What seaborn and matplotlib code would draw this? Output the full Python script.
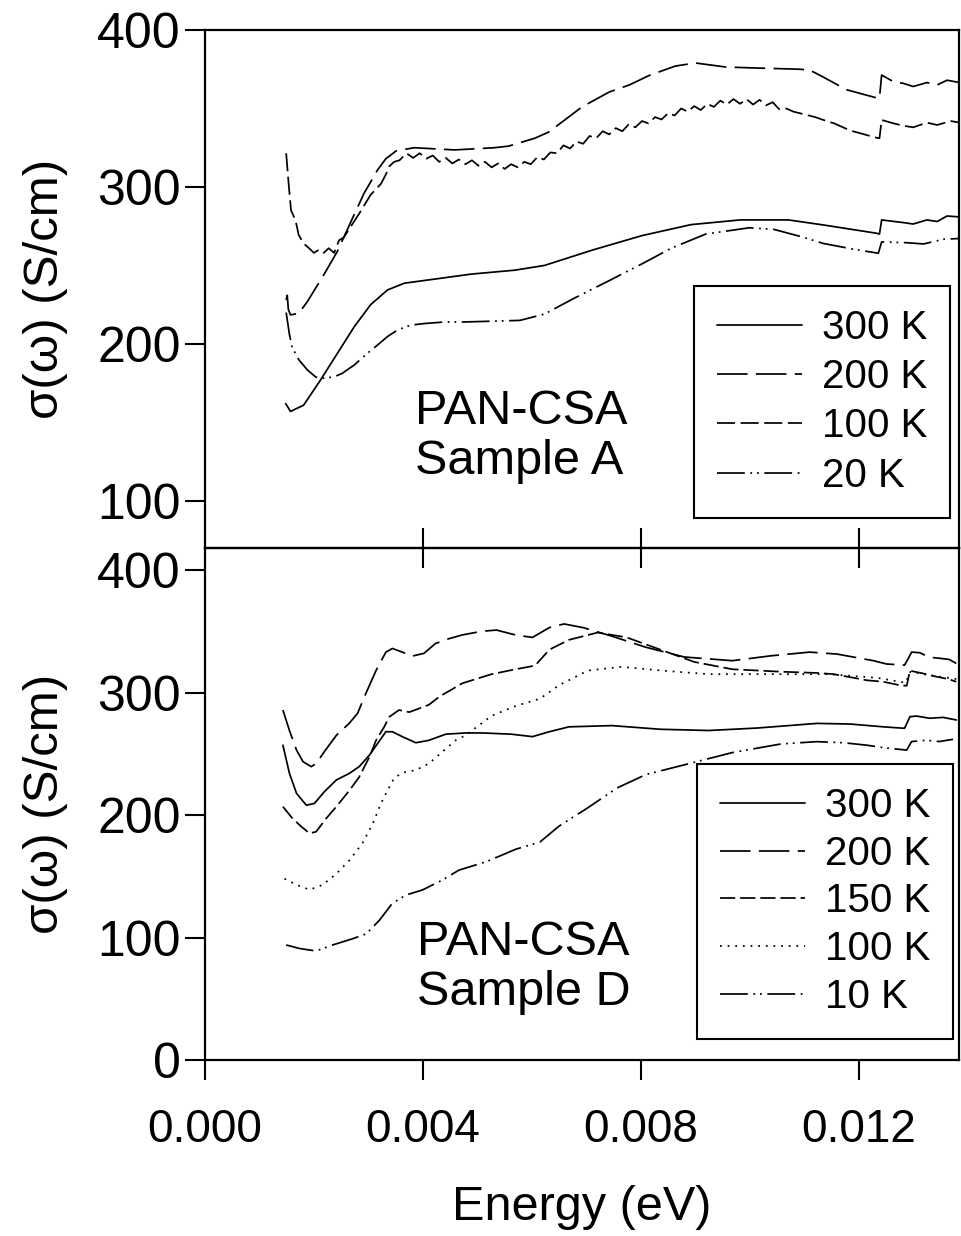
import numpy as np
import matplotlib
matplotlib.use("Agg")
import matplotlib.pyplot as plt
import seaborn as sns

# ---------------- data (energy in meV, sigma in S/cm) ----------------
# Sample A
A300_E = [1.48, 1.57, 1.81, 2.12, 2.43, 2.74, 3.04, 3.35, 3.66, 4.15, 4.89, 5.69, 6.23, 7.13,
          8.02, 8.92, 9.82, 10.71, 11.35, 12.33, 12.38, 12.42, 12.82, 13.00, 13.25, 13.44, 13.62, 13.93]
A300_S = [162, 157, 161, 177, 194, 211, 225, 234.4, 238.7, 241, 244.5, 247, 250, 260,
          269, 276, 279, 279, 275.8, 270.5, 270, 279, 277.3, 276.4, 279, 278, 281.5, 280.7]

A200_E = [1.49, 1.51, 1.53, 1.57, 1.72, 1.88, 2.18, 2.43, 2.68, 2.92, 3.17, 3.32, 3.51, 3.84,
          4.58, 5.31, 5.57, 6.05, 6.31, 6.92, 7.42, 7.79, 8.15, 8.63, 9.00, 9.56, 10.11, 10.92,
          11.10, 11.35, 11.77, 12.30, 12.38, 12.42, 12.64, 12.82, 13.00, 13.25, 13.44, 13.62, 13.93]
A200_S = [228, 231, 222, 218.5, 219.5, 227, 244, 259, 278, 296, 311, 318, 323, 325,
          323.6, 325, 326, 331, 335, 351, 360.5, 365, 371, 377, 379, 376.4, 375.8, 375,
          374.5, 370, 362, 357, 356.5, 371.3, 367, 366, 364, 366.5, 365, 368, 366]

A100_E = [1.49, 1.54, 1.58, 1.66, 1.72, 1.81, 1.91, 2.00, 2.09, 2.18, 2.27, 2.37, 2.46, 2.55,
          2.68, 2.83, 3.04, 3.23, 3.32, 3.38, 3.47, 3.57,
          3.70, 3.82, 3.94, 4.06, 4.18, 4.30, 4.42, 4.54, 4.66, 4.78,
          4.90, 5.02, 5.14, 5.26, 5.38, 5.50, 5.62, 5.74, 5.86, 5.98,
          6.10, 6.22, 6.34, 6.46, 6.58, 6.70, 6.82, 6.94, 7.06, 7.18,
          7.30, 7.42, 7.54, 7.66, 7.78, 7.90, 8.02, 8.14, 8.26, 8.38,
          8.50, 8.62, 8.74, 8.86, 8.98, 9.10, 9.22, 9.34, 9.46, 9.58,
          9.70, 9.82, 9.94, 10.06, 10.18, 10.30, 10.42, 10.54,
          10.67, 10.80, 11.03, 11.20, 11.35, 11.55, 11.84, 12.05, 12.30, 12.38, 12.42,
          12.64, 12.82, 13.00, 13.25, 13.44, 13.69, 13.93]
A100_S = [321.5, 300, 285, 279, 269.4, 264, 261, 258, 260, 258, 261, 258, 266, 268,
          275, 283, 295, 302, 308, 313, 316, 317,
          321.5, 318.5, 321.5, 318, 320, 316, 318.5, 315, 317.5, 314.5,
          317, 313.5, 316, 312.5, 315, 311.5, 314.5, 312.5, 316, 314.5,
          319, 317.5, 322, 321.5, 326.5, 324.5, 329, 327.5, 332.5, 331,
          335.5, 333.5, 337.5, 335.5, 340, 338, 342, 340.5, 344.5, 343,
          347, 345.5, 350, 348, 351.5, 349, 353, 351, 355, 352.5,
          356, 353, 356, 352.5, 355.5, 352, 354, 349.5,
          350, 348, 346, 344.5, 342.7, 340.5, 336, 334, 331.6, 331, 342.7,
          340.5, 339, 338, 341, 339.5, 342, 340.5]

A20_E = [1.49, 1.55, 1.60, 1.72, 1.88, 2.03, 2.12, 2.37, 2.52, 2.74, 2.98, 3.17, 3.35, 3.54,
         3.78, 4.03, 4.40, 4.77, 5.78, 6.23, 6.77, 7.40, 8.02, 8.56, 9.19, 9.99, 10.44, 10.98,
         11.35, 11.96, 12.36, 12.42, 12.88, 13.19, 13.56, 13.93]
A20_S = [220, 206, 198, 190, 183.4, 179, 178, 179, 181.3, 186.6, 194, 199.4, 204.7, 209,
         212, 213, 214, 214, 215, 219, 229, 240, 251, 261, 270, 274, 273, 268,
         264, 260, 257.8, 265, 264.5, 263.7, 266.7, 267.3]

# Sample D
D300_E = [1.43, 1.55, 1.68, 1.86, 2.01, 2.19, 2.41, 2.65, 2.83, 3.02, 3.17, 3.32, 3.44, 3.62,
          3.87, 4.11, 4.42, 4.78, 5.10, 5.62, 6.01, 6.32, 6.68, 7.47, 8.36, 9.24, 10.13, 11.23,
          11.84, 12.45, 12.84, 12.94, 13.06, 13.30, 13.55, 13.79]
D300_S = [257, 234, 217.7, 208, 209.5, 219, 228.6, 234, 239.5, 249, 258.5, 268, 268, 264,
          259, 261, 266, 267, 267, 266, 264, 268, 272, 273, 270, 269, 271, 274.8,
          274.3, 272, 270.8, 280.3, 280.8, 279, 279.7, 277.6]

D200_E = [1.43, 1.55, 1.68, 1.80, 1.95, 2.04, 2.19, 2.41, 2.65, 2.80, 2.95, 3.14, 3.32, 3.44,
          3.62, 3.81, 4.02, 4.23, 4.48, 4.72, 5.08, 5.35, 5.70, 6.01, 6.32, 6.59, 6.94, 7.47,
          8.09, 8.80, 9.68, 10.39, 11.10, 11.60, 12.27, 12.51, 12.84, 12.90, 12.97, 13.12,
          13.30, 13.48, 13.66, 13.79]
D200_S = [285.7, 269, 253, 243.5, 239.5, 242, 251.7, 265, 275, 283, 299, 318, 333, 336,
          333, 329.8, 332, 340, 344, 347, 350, 351, 347, 345, 353, 356, 353, 346,
          337, 329, 326, 330, 333, 331.4, 326, 323.3, 322.4, 327, 333, 332.5,
          328.7, 328, 327, 323.8]

D150_E = [1.43, 1.61, 1.77, 1.92, 2.04, 2.22, 2.41, 2.65, 2.83, 3.02, 3.14, 3.29, 3.38, 3.56,
          3.75, 3.93, 4.11, 4.30, 4.51, 4.72, 5.26, 5.70, 6.06, 6.32, 6.68, 7.21, 7.74, 8.36,
          8.98, 9.68, 10.57, 11.23, 11.54, 12.15, 12.45, 12.75, 12.88, 12.94, 13.18, 13.42,
          13.66, 13.79]
D150_S = [206.8, 197, 190.5, 185, 186.4, 197, 206.8, 220, 231, 247.6, 261, 272, 280, 285.7,
          284, 287, 290, 296.6, 302, 307.5, 315, 319, 322, 335, 343, 349, 345, 335,
          325, 319, 317, 316, 315, 310, 308.8, 306, 305.5, 317.8, 315.6, 313,
          310.8, 308.8]

D100_E = [1.46, 1.68, 1.92, 2.16, 2.41, 2.65, 2.89, 3.08, 3.23, 3.35, 3.47, 3.62, 3.87, 4.11,
          4.36, 4.60, 4.78, 5.26, 5.70, 6.15, 6.50, 7.03, 7.65, 8.36, 9.24, 10.13, 11.45, 12.34,
          12.86, 12.95, 13.31, 13.79]
D100_S = [148, 143, 139, 143, 152, 163, 177, 193, 209.5, 220, 230, 234.5, 236.7, 242,
          251.7, 261, 265, 281, 289, 295, 306, 318, 321, 318, 315, 315, 315, 312,
          308, 317, 314, 311]

D10_E = [1.49, 1.74, 2.04, 2.35, 2.71, 2.96, 3.20, 3.44, 3.69, 3.99, 4.36, 4.66, 5.17, 5.70,
         6.15, 6.50, 7.03, 7.56, 8.09, 8.80, 9.68, 10.57, 11.23, 11.72, 12.15, 12.45, 12.88,
         12.97, 13.24, 13.48, 13.73]
D10_S = [93.9, 91, 89, 94, 99, 103, 114, 128, 134.7, 138.8, 147, 155, 162, 172,
         178, 191, 206, 222, 233, 241, 251, 258, 259.9, 259, 257, 255, 253,
         260, 261, 260, 261.8]

LABELS_A = ["300 K", "200 K", "100 K", "20 K"]
LABELS_D = ["300 K", "200 K", "150 K", "100 K", "10 K"]
X_TICKS = [0.000, 0.004, 0.008, 0.012]
X_TICK_LABELS = ["0.000", "0.004", "0.008", "0.012"]
Y_TICKS_A = [100, 200, 300, 400]
Y_TICKS_D = [0, 100, 200, 300, 400]
TEXT_A = ["PAN-CSA", "Sample A"]
TEXT_D = ["PAN-CSA", "Sample D"]

# ---------------- style ----------------
sns.set_theme(style="ticks")
plt.rcParams["font.family"] = ["Liberation Sans", "DejaVu Sans"]
plt.rcParams["lines.scale_dashes"] = False
plt.rcParams["axes.edgecolor"] = "black"
plt.rcParams["xtick.color"] = "black"
plt.rcParams["ytick.color"] = "black"
plt.rcParams["text.color"] = "black"
plt.rcParams["axes.labelcolor"] = "black"

SOLID = None
DASH_LONG = (22, 6)
DASH_MED = (13, 4)
DASH_SHORT = (11, 3.5)
DOTS = (1.3, 4.2)
DASH_DOT_DOT = (20, 4, 1.3, 3.5, 1.3, 4)

fig = plt.figure(figsize=(9.62, 12.36), dpi=100)
L = 205 / 962
W = (959 - 205) / 962
ax_top = fig.add_axes([L, 1 - 548 / 1236, W, (548 - 30) / 1236])
ax_bot = fig.add_axes([L, 1 - 1060 / 1236, W, (1060 - 548) / 1236])
ax_bot.patch.set_alpha(0)

LW = 1.25


def draw(ax, E, S, dashes, label):
    sns.lineplot(x=np.array(E) * 1e-3, y=np.array(S), ax=ax, color="black",
                 linewidth=LW, estimator=None, sort=False, errorbar=None)
    line = ax.lines[-1]
    if dashes is not None:
        line.set_dashes(dashes)
    line.set_label(label)
    return line


series_A = [(A300_E, A300_S, SOLID), (A200_E, A200_S, DASH_LONG),
            (A100_E, A100_S, DASH_MED), (A20_E, A20_S, DASH_DOT_DOT)]
series_D = [(D300_E, D300_S, SOLID), (D200_E, D200_S, DASH_LONG),
            (D150_E, D150_S, DASH_SHORT), (D100_E, D100_S, DOTS),
            (D10_E, D10_S, DASH_DOT_DOT)]

h_A = [draw(ax_top, e, s, d, lab) for (e, s, d), lab in zip(series_A, LABELS_A)]
h_D = [draw(ax_bot, e, s, d, lab) for (e, s, d), lab in zip(series_D, LABELS_D)]

XMAX = 0.01384
for ax in (ax_top, ax_bot):
    ax.set_xlim(0, XMAX)
    for sp in ax.spines.values():
        sp.set_visible(True)
        sp.set_linewidth(1.6)
        sp.set_color("black")
    ax.set_ylabel("σ(ω) (S/cm)", fontsize=35.5)
    ax.yaxis.set_label_coords(-0.182, 0.5)
    ax.tick_params(axis="y", direction="out", length=14.5, width=1.5,
                   labelsize=36, pad=3, left=True, right=False)
    ax.set_xlabel("")

ax_top.set_ylim(70, 400)
ax_top.set_yticks(Y_TICKS_A)
ax_top.set_xticks(X_TICKS[1:])
ax_top.tick_params(axis="x", direction="inout", length=29, width=1.5,
                   labelbottom=False, bottom=True, top=False)

ax_bot.set_ylim(0, 418)
ax_bot.set_yticks(Y_TICKS_D)
ax_bot.set_xticks(X_TICKS)
ax_bot.set_xticklabels(X_TICK_LABELS)
ax_bot.tick_params(axis="x", direction="out", length=14.5, width=1.5,
                   labelsize=33, pad=20, bottom=True, top=False)
ax_bot.set_xlabel("Energy (eV)", fontsize=35, labelpad=24)

# sample annotations
ax_top.text(0.279, 0.2394, TEXT_A[0], transform=ax_top.transAxes, fontsize=35, va="baseline")
ax_top.text(0.279, 0.1429, TEXT_A[1], transform=ax_top.transAxes, fontsize=35, va="baseline")
ax_bot.text(0.281, 0.205, TEXT_D[0], transform=ax_bot.transAxes, fontsize=35, va="baseline")
ax_bot.text(0.281, 0.1074, TEXT_D[1], transform=ax_bot.transAxes, fontsize=35, va="baseline")

leg_kw = dict(fontsize=29, frameon=True, fancybox=False, framealpha=1, edgecolor="black",
              loc="upper left", borderaxespad=0, handlelength=2.1, handletextpad=0.5,
              borderpad=0.57)
leg1 = ax_top.legend(h_A, LABELS_A, bbox_to_anchor=(0.649, 0.506), labelspacing=0.28, **leg_kw)
leg1.get_frame().set_linewidth(1.5)
leg2 = ax_bot.legend(h_D, LABELS_D, bbox_to_anchor=(0.653, 0.578), labelspacing=0.24, **leg_kw)
leg2.get_frame().set_linewidth(1.5)

fig.savefig("out.png", dpi=100)
